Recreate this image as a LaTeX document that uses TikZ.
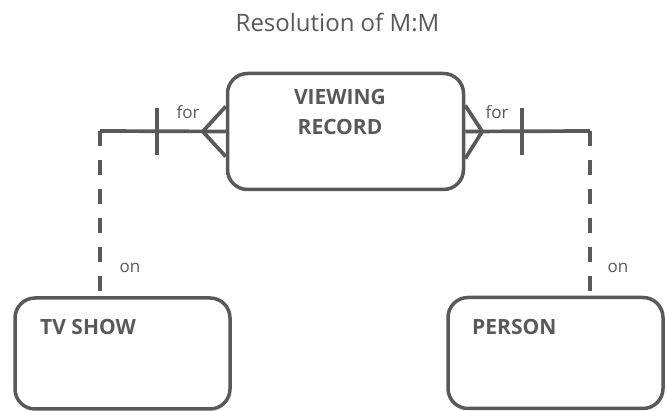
\documentclass[tikz,border=0pt]{standalone}
\usepackage{fontspec}
\setmainfont{Open Sans}
\definecolor{ink}{RGB}{89,89,89}
\begin{document}
\begin{tikzpicture}[x=1pt,y=-1pt,
  entity/.style={draw=ink, line width=3.5pt, rounded corners=20pt, inner sep=0pt},
  ename/.style={text=ink, font=\fontsize{21}{30}\selectfont\bfseries, inner sep=0pt, align=center},
  rlabel/.style={text=ink, font=\fontsize{17}{20}\selectfont, inner sep=0pt},
  rel/.style={draw=ink, line width=3.7pt},
  reld/.style={draw=ink, line width=3.7pt, dash pattern=on 15pt off 14pt}]
\useasboundingbox (0,0) rectangle (667,411);
\node[text=ink, font=\fontsize{24}{28}\selectfont, inner sep=0pt] (title) at (337.5,22) {Resolution of M:M};
% entity boxes
\node[entity, minimum width=236pt, minimum height=116pt] (vr) at (345.5,131.5) {};
\node[entity, minimum width=215pt, minimum height=111pt] (tv) at (122.5,353.5) {};
\node[entity, minimum width=215pt, minimum height=111pt] (ps) at (555.5,353) {};
\node[ename] (vrt) at (340,112) {VIEWING\\RECORD};
\node[ename, anchor=west] (tvt) at (40,327) {TV SHOW};
\node[ename, anchor=west] (pst) at (472,327) {PERSON};
% corners
\coordinate (cl) at (100,131);
\coordinate (cr) at (590,131);
% left relationship
\draw[rel] (vr.west) -- (cl);
\draw[reld] (cl) -- (tv.north -| cl);
\draw[rel] ([xshift=-23pt]vr.west) -- ([yshift=-25pt]vr.west);
\draw[rel] ([xshift=-23pt]vr.west) -- ([yshift=25pt]vr.west);
\coordinate (bl) at (157,131);
\draw[rel] ([yshift=-24pt]bl) -- ([yshift=23pt]bl);
% right relationship
\draw[rel] (vr.east) -- (cr);
\draw[reld] (cr) -- (ps.north -| cr);
\draw[rel] ([xshift=17pt]vr.east) -- ([yshift=-27pt]vr.east);
\draw[rel] ([xshift=17pt]vr.east) -- ([yshift=26pt]vr.east);
\coordinate (br) at (522,131);
\draw[rel] ([yshift=-24pt]br) -- ([yshift=23pt]br);
% labels
\node[rlabel] (f1) at (188,112) {for};
\node[rlabel] (f2) at (497,112) {for};
\node[rlabel] (o1) at (130,268) {on};
\node[rlabel] (o2) at (618,268) {on};
\end{tikzpicture}
\end{document}
